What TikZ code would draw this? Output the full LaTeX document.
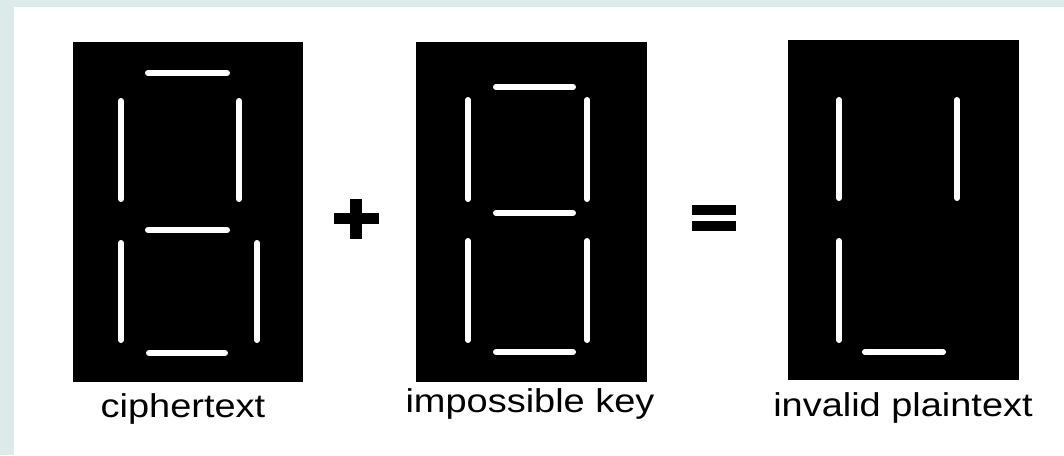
\documentclass[tikz,border=0pt]{standalone}
\usepackage{fontspec}
\setmainfont{Liberation Sans}
\definecolor{framebg}{HTML}{DDEAEA}
\tikzset{
  panel/.style={fill=black, draw=none, inner sep=0pt, outer sep=0pt},
  seg/.style={draw=white, line width=6pt, line cap=round},
  label/.style={font=\fontsize{33}{40}\selectfont, xscale=1.15, anchor=base, inner sep=0pt},
  opbar/.style={fill=black, draw=none}
}
\begin{document}
\begin{tikzpicture}[x=1pt,y=-1pt]
\useasboundingbox (0,0) rectangle (1064,455);
% background frame
\fill[framebg] (0,0) rectangle (1064,455);
\fill[white] (14,7) rectangle (1064,455);

% panels
\node[panel, minimum width=230pt, minimum height=340pt, anchor=north west] (p1) at (73,42) {};
\node[panel, minimum width=231pt, minimum height=340pt, anchor=north west] (p2) at (416,42) {};
\node[panel, minimum width=231pt, minimum height=340pt, anchor=north west] (p3) at (788,40) {};

% panel 1 segments (all seven)
\draw[seg] (148,73) -- (227,73);
\draw[seg] (121,101) -- (121,199);
\draw[seg] (239,101) -- (239,199);
\draw[seg] (148,230) -- (227,230);
\draw[seg] (121,243) -- (121,340);
\draw[seg] (257,243) -- (257,340);
\draw[seg] (149,353) -- (225,353);

% panel 2 segments (all seven)
\draw[seg] (496,87) -- (573,87);
\draw[seg] (468,100) -- (468,199);
\draw[seg] (587,100) -- (587,199);
\draw[seg] (496,213) -- (573,213);
\draw[seg] (468,241) -- (468,340);
\draw[seg] (587,241) -- (587,340);
\draw[seg] (496,352) -- (573,352);

% panel 3 segments
\draw[seg] (839,100) -- (839,198);
\draw[seg] (957,100) -- (957,198);
\draw[seg] (839,241) -- (839,340);
\draw[seg] (865,352) -- (943,352);

% plus sign
\node[inner sep=0pt] (plus) at (356,219) {};
\fill[opbar] (334,213) rectangle (379,224);
\fill[opbar] (350,199) rectangle (362,239);

% equals sign
\node[inner sep=0pt] (equals) at (714,218) {};
\fill[opbar] (692,205) rectangle (736,215);
\fill[opbar] (692,221) rectangle (736,231);

% labels
\node[label] (l1) at (183,417) {ciphertext};
\node[label] (l2) at (530,412) {impossible key};
\node[label] (l3) at (903,416) {invalid plaintext};
\end{tikzpicture}
\end{document}
